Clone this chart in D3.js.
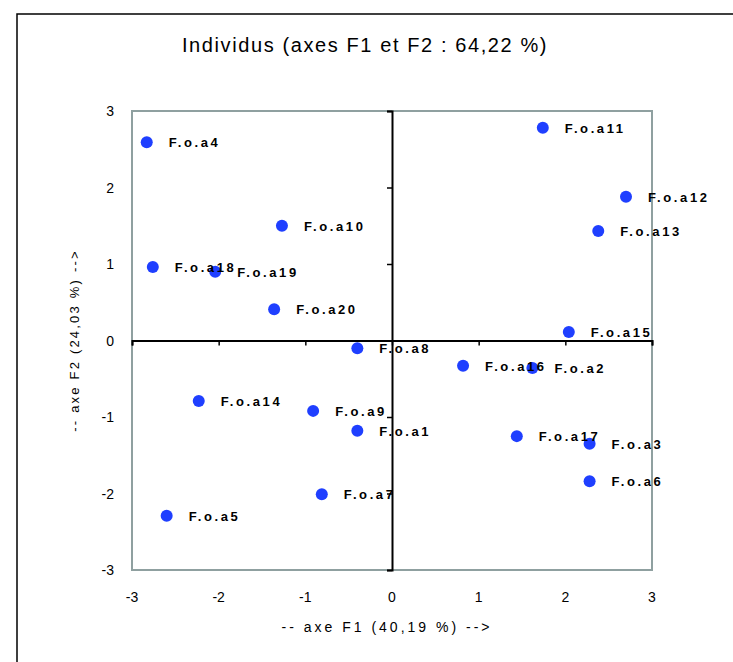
<!DOCTYPE html>
<html>
<head>
<meta charset="utf-8">
<script src="https://cdn.jsdelivr.net/npm/d3@7"></script>
<style>
  body { margin: 0; background: #fff; }
  svg text { font-family: "Liberation Sans", Arial, sans-serif; }
</style>
</head>
<body>
<div id="chart"></div>
<script>
// Individus, coordonnées sur F1 et F2
const names = ["F.o.a1", "F.o.a2", "F.o.a3", "F.o.a4", "F.o.a5", "F.o.a6", "F.o.a7", "F.o.a8", "F.o.a9", "F.o.a10",
    "F.o.a11", "F.o.a12", "F.o.a13", "F.o.a14", "F.o.a15", "F.o.a16", "F.o.a17", "F.o.a18", "F.o.a19", "F.o.a20"];
const f1 = [-0.40, 1.62, 2.28, -2.83, -2.60, 2.28, -0.81, -0.40, -0.91, -1.27,
    1.74, 2.70, 2.38, -2.23, 2.04, 0.82, 1.44, -2.76, -2.04, -1.36];
const f2 = [-1.18, -0.36, -1.35, 2.59, -2.29, -1.84, -2.01, -0.10, -0.92, 1.50,
    2.78, 1.88, 1.43, -0.79, 0.11, -0.33, -1.25, 0.96, 0.90, 0.41];
const ticks = [-3, -2, -1, 0, 1, 2, 3];

const title = "Individus (axes F1 et F2 : 64,22 %)";
const xTitle = "-- axe F1 (40,19 %) -->";
const yTitle = "-- axe F2 (24,03 %) -->";

const data = names.map((n, i) => ({ name: n, x: f1[i], y: f2[i] }));

const W = 733, H = 662;
const plot = { left: 132, right: 652, top: 111, bottom: 570 };

const svg = d3.select("#chart").append("svg")
    .attr("width", W)
    .attr("height", H);

// cadre extérieur
svg.append("rect")
    .attr("x", 17).attr("y", 14)
    .attr("width", W).attr("height", H)
    .attr("fill", "none")
    .attr("stroke", "#000")
    .attr("stroke-width", 1.5);

svg.append("text")
    .attr("x", 365)
    .attr("y", 52)
    .attr("text-anchor", "middle")
    .style("font-size", "20px")
    .style("letter-spacing", "1.6px")
    .text(title);

const x = d3.scaleLinear().domain([-3, 3]).range([plot.left, plot.right]);
const y = d3.scaleLinear().domain([-3, 3]).range([plot.bottom, plot.top]);

// cadre de la zone de tracé
svg.append("rect")
    .attr("x", plot.left).attr("y", plot.top)
    .attr("width", plot.right - plot.left)
    .attr("height", plot.bottom - plot.top)
    .attr("fill", "none")
    .attr("stroke", "#8fa0a0")
    .attr("stroke-width", 2);

// axes centraux
const xAxis = svg.append("g")
    .attr("transform", `translate(0,${y(0)})`)
    .call(d3.axisBottom(x).tickValues(ticks).tickSize(5).tickFormat(""));
const yAxis = svg.append("g")
    .attr("transform", `translate(${x(0)},0)`)
    .call(d3.axisLeft(y).tickValues(ticks).tickSize(5).tickFormat(""));
[xAxis, yAxis].forEach(a => {
    a.select(".domain").attr("stroke", "#000").attr("stroke-width", 2);
    a.selectAll(".tick line").attr("stroke", "#000").attr("stroke-width", 1.5);
});

// étiquettes des graduations
svg.append("g").selectAll("text")
    .data(ticks)
    .enter()
    .append("text")
    .attr("x", d => x(d))
    .attr("y", 602)
    .attr("text-anchor", "middle")
    .style("font-size", "14px")
    .text(d => d);

svg.append("g").selectAll("text")
    .data(ticks)
    .enter()
    .append("text")
    .attr("x", 114)
    .attr("y", d => y(d) + 5)
    .attr("text-anchor", "end")
    .style("font-size", "14px")
    .text(d => d);

// titres des axes
svg.append("text")
    .attr("x", 387)
    .attr("y", 632)
    .attr("text-anchor", "middle")
    .style("font-size", "14px")
    .style("letter-spacing", "3px")
    .text(xTitle);

svg.append("text")
    .attr("transform", `translate(79,${y(0)}) rotate(-90)`)
    .attr("text-anchor", "middle")
    .style("font-size", "13px")
    .style("letter-spacing", "2.2px")
    .text(yTitle);

// points
svg.selectAll(".pt")
    .data(data)
    .enter()
    .append("circle")
    .attr("class", "pt")
    .attr("cx", d => x(d.x))
    .attr("cy", d => y(d.y))
    .attr("r", 6)
    .attr("fill", "#1f3fff");

svg.selectAll(".lbl")
    .data(data)
    .enter()
    .append("text")
    .attr("class", "lbl")
    .attr("x", d => x(d.x) + 22)
    .attr("y", d => y(d.y) + 5)
    .style("font-size", "13px")
    .style("font-weight", "bold")
    .style("letter-spacing", "2.6px")
    .text(d => d.name);
</script>
</body>
</html>
